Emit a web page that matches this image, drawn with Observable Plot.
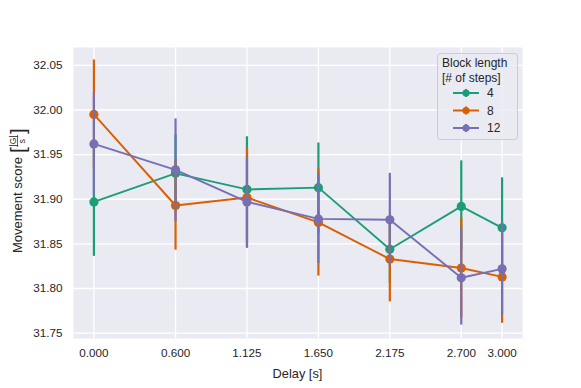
<!DOCTYPE html>
<html><head><meta charset="utf-8">
<script src="https://cdn.jsdelivr.net/npm/d3@7"></script>
<script src="https://cdn.jsdelivr.net/npm/@observablehq/plot@0.6"></script>
<style>
body{margin:0;background:#fff;}
#chart{position:relative;width:581px;height:388px;}
</style></head>
<body><div id="chart"></div>
<script>
const delays = [0, 0.6, 1.125, 1.65, 2.175, 2.7, 3.0];
const xTickLabels = ["0.000","0.600","1.125","1.650","2.175","2.700","3.000"];
const yTicks = [31.75, 31.80, 31.85, 31.90, 31.95, 32.00, 32.05];
const blocks = ["4","8","12"];
const colors = ["#1b9e77","#d95f02","#7570b3"];
const mean4 = [31.897, 31.929, 31.911, 31.913, 31.844, 31.892, 31.868];
const lo4   = [31.836, 31.886, 31.852, 31.862, 31.806, 31.842, 31.815];
const hi4   = [31.957, 31.972, 31.970, 31.963, 31.880, 31.943, 31.924];
const mean8 = [31.995, 31.893, 31.902, 31.874, 31.833, 31.823, 31.813];
const lo8   = [31.934, 31.843, 31.845, 31.814, 31.785, 31.767, 31.761];
const hi8   = [32.056, 31.943, 31.958, 31.934, 31.880, 31.879, 31.865];
const mean12 = [31.962, 31.933, 31.897, 31.878, 31.877, 31.812, 31.822];
const lo12   = [31.905, 31.875, 31.846, 31.828, 31.826, 31.759, 31.770];
const hi12   = [32.019, 31.990, 31.947, 31.928, 31.929, 31.867, 31.874];

const series = [
  {block:"4", mean:mean4, lo:lo4, hi:hi4},
  {block:"8", mean:mean8, lo:lo8, hi:hi8},
  {block:"12", mean:mean12, lo:lo12, hi:hi12}
];
const font = "'Liberation Sans', Arial, sans-serif";

const seriesMarks = series.flatMap((s, i) => {
  const rows = delays.map((d, j) => ({delay:d, mean:s.mean[j], lo:s.lo[j], hi:s.hi[j]}));
  return [
    Plot.ruleX(rows, {x:"delay", y1:"lo", y2:"hi", stroke:colors[i], strokeWidth:2.2}),
    Plot.line(rows, {x:"delay", y:"mean", stroke:colors[i], strokeWidth:1.9}),
    Plot.dot(rows, {x:"delay", y:"mean", fill:colors[i], r:4.6, stroke:"none"})
  ];
});

const plot = Plot.plot({
  width:581, height:388,
  marginLeft:73, marginRight:59, marginTop:47, marginBottom:50,
  style:{background:"white", fontFamily:font, fontSize:"12px", color:"#262626"},
  x:{domain:[-0.15, 3.15]},
  y:{domain:[31.744, 32.07]},
  marks:[
    Plot.frame({fill:"#eaeaf2", stroke:"none"}),
    Plot.gridX(delays, {stroke:"white", strokeOpacity:1, strokeWidth:1.3}),
    Plot.gridY(yTicks, {stroke:"white", strokeOpacity:1, strokeWidth:1.3}),
    Plot.axisX(delays, {tickSize:0, tickPadding:10, fontSize:11.7, fill:"#262626",
      tickFormat:(d) => xTickLabels[delays.indexOf(d)],
      label:null}),
    Plot.axisY(yTicks, {tickSize:0, tickPadding:11, fontSize:11.7, fill:"#262626",
      tickFormat:d3.format(".2f"), label:null}),
    ...seriesMarks
  ]
});
document.getElementById("chart").appendChild(plot);

const svg = d3.select(plot);
// x label
svg.append("text").attr("x", 297.5).attr("y", 377.5).attr("text-anchor","middle")
  .attr("font-family", font).attr("font-size",12.8).attr("fill","#262626").text("Delay [s]");
// y label with fraction
const yl = svg.append("g").attr("transform","translate(22,193) rotate(-90)")
  .attr("font-family", font).attr("fill","#262626").attr("text-anchor","start");
yl.append("text").attr("x",-60).attr("y",0).attr("font-size",13).text("Movement score");
const fx = 40;
yl.append("text").attr("x",fx).attr("y",2.5).attr("font-size",21).attr("font-weight",200).text("[");
yl.append("text").attr("x",fx+12).attr("y",-6.5).attr("font-size",8.5).attr("text-anchor","middle").text("|G|");
yl.append("line").attr("x1",fx+6).attr("x2",fx+18).attr("y1",-4.5).attr("y2",-4.5).attr("stroke","#262626").attr("stroke-width",0.7);
yl.append("text").attr("x",fx+12).attr("y",3).attr("font-size",8.5).attr("text-anchor","middle").text("s");
yl.append("text").attr("x",fx+19).attr("y",2.5).attr("font-size",21).attr("font-weight",200).text("]");

// legend
const lg = svg.append("g").attr("font-family", font).attr("fill","#262626").attr("text-anchor","start");
lg.append("rect").attr("x",437.5).attr("y",53.5).attr("width",80).attr("height",86).attr("rx",3)
  .attr("fill","#eaeaf2").attr("fill-opacity",0.8).attr("stroke","#cccccc");
lg.append("text").attr("x",442).attr("y",67).attr("font-size",12).text("Block length");
lg.append("text").attr("x",442).attr("y",82).attr("font-size",12).text("[# of steps]");
blocks.forEach((b, i) => {
  const y = 93 + i*17.5;
  lg.append("line").attr("x1",453).attr("x2",479).attr("y1",y).attr("y2",y).attr("stroke",colors[i]).attr("stroke-width",2);
  lg.append("line").attr("x1",466).attr("x2",466).attr("y1",y-4).attr("y2",y+4).attr("stroke",colors[i]).attr("stroke-width",2);
  lg.append("circle").attr("cx",466).attr("cy",y).attr("r",3.6).attr("fill",colors[i]);
  lg.append("text").attr("x",487).attr("y",y+4.2).attr("font-size",12).text(b);
});
</script>
</body></html>
